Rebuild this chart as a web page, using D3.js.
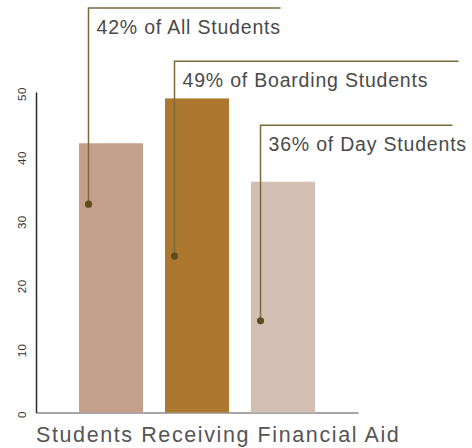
<!DOCTYPE html>
<html>
<head>
<meta charset="utf-8">
<script src="https://cdn.jsdelivr.net/npm/d3@7"></script>
<style>
  body { margin: 0; background: #fff; }
  svg { display: block; font-family: 'Liberation Sans', Arial, sans-serif; }
</style>
</head>
<body>
<div id="chart"></div>
<script>
// data
const categories = ['All Students', 'Boarding Students', 'Day Students'];
const percents = [42, 49, 36];
// where each leader dot sits, and the level of its label line (in % units)
const anchorValues = [32.5, 24.4, 14.3];
const labelLevels = [63.1, 54.8, 44.8];
const yTicks = [0, 10, 20, 30, 40, 50];
const title = 'Students Receiving Financial Aid';

const width = 472;
const height = 448;
const barColors = ['#c49f8b', '#ad772f', '#d4bfb5'];
const leaderLength = [192, 284, 192];

const svg = d3.select('#chart').append('svg')
  .attr('width', width)
  .attr('height', height);

const x = d3.scaleBand()
  .domain(categories)
  .range([36, 358])
  .paddingInner(0.256)
  .paddingOuter(0.5);

const y = d3.scaleLinear()
  .domain([0, 50])
  .range([412.5, 92]);

// x axis: plain grey baseline
svg.append('g')
  .attr('transform', `translate(0,${y(0)})`)
  .call(d3.axisBottom(x).tickSize(0).tickFormat(''))
  .call(g => g.select('.domain').attr('stroke', '#8a8a8a').attr('stroke-width', 1.5));

// bars
svg.selectAll('.bar')
  .data(categories)
  .enter().append('rect')
  .attr('class', 'bar')
  .attr('x', d => x(d))
  .attr('width', x.bandwidth())
  .attr('y', (d, i) => y(percents[i]))
  .attr('height', (d, i) => y(0) - y(percents[i]))
  .attr('fill', (d, i) => barColors[i]);

// y axis with rotated labels
svg.append('g')
  .attr('transform', `translate(${x.range()[0]},0)`)
  .call(d3.axisLeft(y).tickValues(yTicks).tickSize(0).tickSizeOuter(0))
  .call(g => g.select('.domain').attr('stroke', '#2a2a2a').attr('stroke-width', 1.5))
  .call(g => g.selectAll('text')
    .attr('x', 0)
    .attr('dy', 0)
    .attr('text-anchor', 'middle')
    .attr('transform', 'translate(-10,1.5) rotate(-90)')
    .attr('fill', '#333')
    .style('font-family', "'Liberation Sans', Arial, sans-serif")
    .style('font-size', '11.5px')
    .style('letter-spacing', '0.5px'));

// annotations
const ann = svg.selectAll('.ann')
  .data(categories)
  .enter().append('g')
  .attr('class', 'ann');

const lx = d => x(d) + 9.5;

ann.append('path')
  .attr('d', (d, i) => `M${lx(d)},${y(anchorValues[i])}V${y(labelLevels[i])}H${lx(d) + leaderLength[i]}`)
  .attr('fill', 'none')
  .attr('stroke', '#7b6a3c')
  .attr('stroke-width', 1.5);

ann.append('circle')
  .attr('cx', d => lx(d))
  .attr('cy', (d, i) => y(anchorValues[i]))
  .attr('r', 3.6)
  .attr('fill', '#5e4d20');

ann.append('text')
  .attr('x', d => lx(d) + 8)
  .attr('y', (d, i) => y(labelLevels[i]) + 26)
  .attr('fill', '#4a4a4a')
  .style('font-size', '19.5px')
  .style('letter-spacing', '0.8px')
  .text((d, i) => `${percents[i]}% of ${d}`);

// title
svg.append('text')
  .attr('x', 36)
  .attr('y', 442)
  .attr('fill', '#555')
  .style('font-size', '21.5px')
  .style('letter-spacing', '1.6px')
  .text(title);
</script>
</body>
</html>
